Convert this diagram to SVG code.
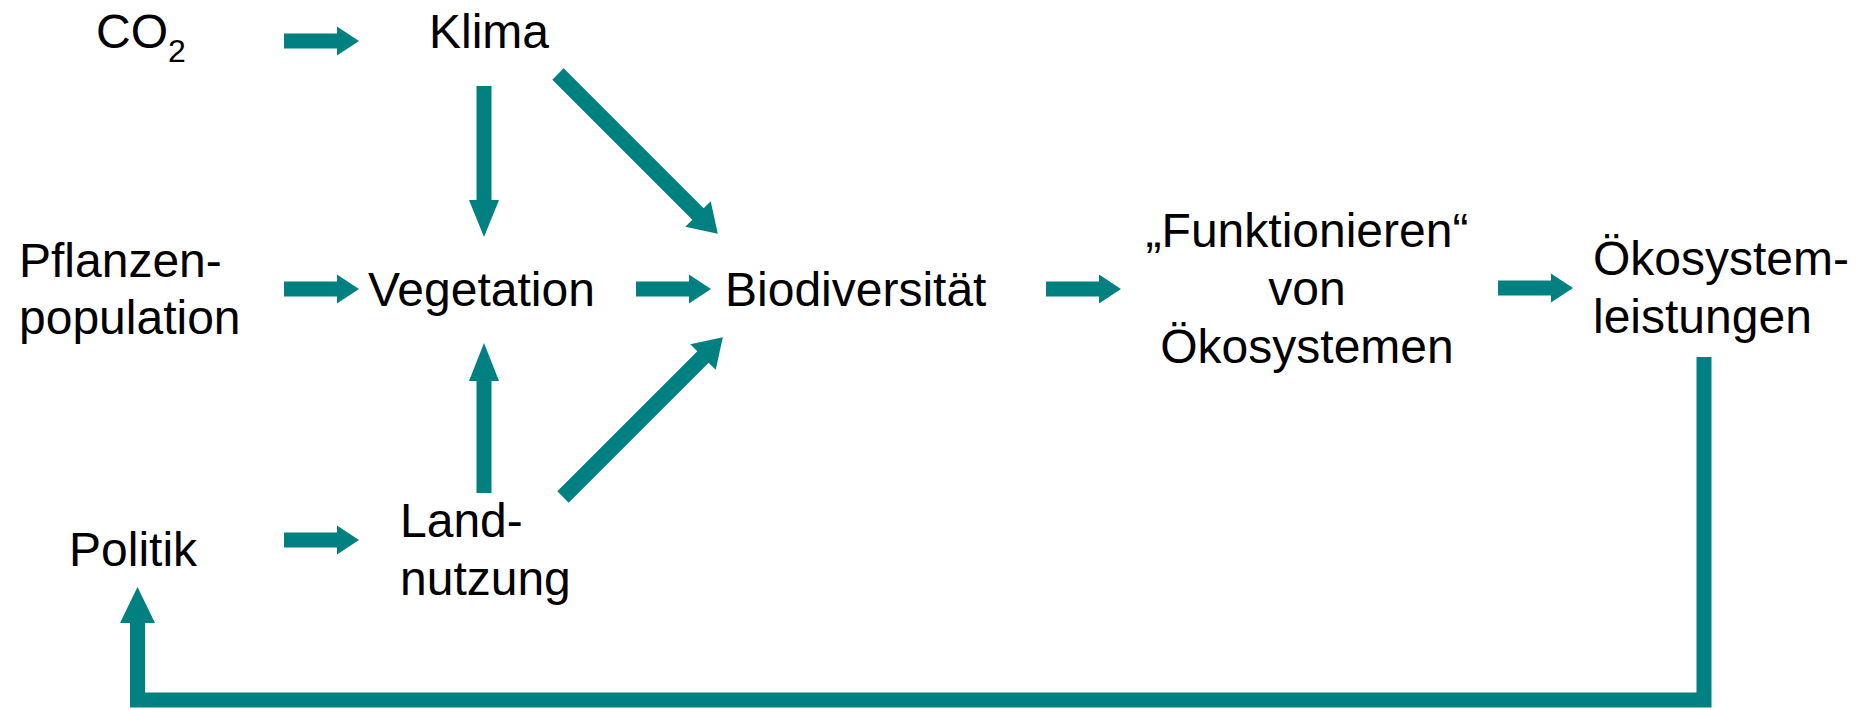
<svg xmlns="http://www.w3.org/2000/svg" width="1874" height="710" viewBox="0 0 1874 710">
<style>
.t{font-family:"Liberation Sans",Arial,sans-serif;font-size:48px;fill:#000}
.a{fill:#008080}
.l{fill:none;stroke:#008080;stroke-width:15;stroke-linejoin:miter;stroke-linecap:butt}
</style>
<defs>
<path id="h" d="M0,-7.5 H53 V-14.5 L75,0 L53,14.5 V7.5 H0 Z"/>
<path id="d" d="M0,-8 H198 V-18 L226,0 L198,18 V8 H0 Z"/>
</defs>
<rect width="1874" height="710" fill="#fff"/>
<g id="connectors">
<use href="#h" class="a" x="284" y="41"/>
<use href="#h" class="a" x="284" y="289"/>
<use href="#h" class="a" x="636" y="289"/>
<use href="#h" class="a" x="1046" y="289"/>
<use href="#h" class="a" x="1498" y="288"/>
<use href="#h" class="a" x="284" y="540"/>
<path class="a" d="M476.5,86 H491.5 V200 H499 L484,237 L469,200 H476.5 Z"/>
<path class="a" d="M476.5,493 V381 H469 L484,343 L499,381 H491.5 V493 Z"/>
<use href="#d" class="a" transform="translate(558,74) rotate(45)"/>
<use href="#d" class="a" transform="translate(563,497) rotate(-45)"/>
<path class="l" d="M1704,357 V700 H137.5 V620"/>
<path class="a" d="M120,623 L137.5,587 L155,623 Z"/>
</g>
<g id="co2"><text class="t" x="96" y="48">CO<tspan font-size="32" y="62">2</tspan></text></g>
<g id="klima"><text class="t" x="429" y="48">Klima</text></g>
<g id="pflanzenpopulation"><text class="t" x="19" y="277">Pflanzen-</text><text class="t" x="19" y="334">population</text></g>
<g id="vegetation"><text class="t" x="368" y="306">Vegetation</text></g>
<g id="biodiversitaet"><text class="t" x="725" y="306">Biodiversität</text></g>
<g id="funktionieren"><text class="t" text-anchor="middle" x="1307" y="247">„Funktionieren“</text><text class="t" text-anchor="middle" x="1307" y="305">von</text><text class="t" text-anchor="middle" x="1307" y="363">Ökosystemen</text></g>
<g id="oekosystemleistungen"><text class="t" x="1593" y="275">Ökosystem-</text><text class="t" x="1593" y="333">leistungen</text></g>
<g id="politik"><text class="t" x="69" y="566">Politik</text></g>
<g id="landnutzung"><text class="t" x="400" y="537">Land-</text><text class="t" x="400" y="595">nutzung</text></g>
</svg>
